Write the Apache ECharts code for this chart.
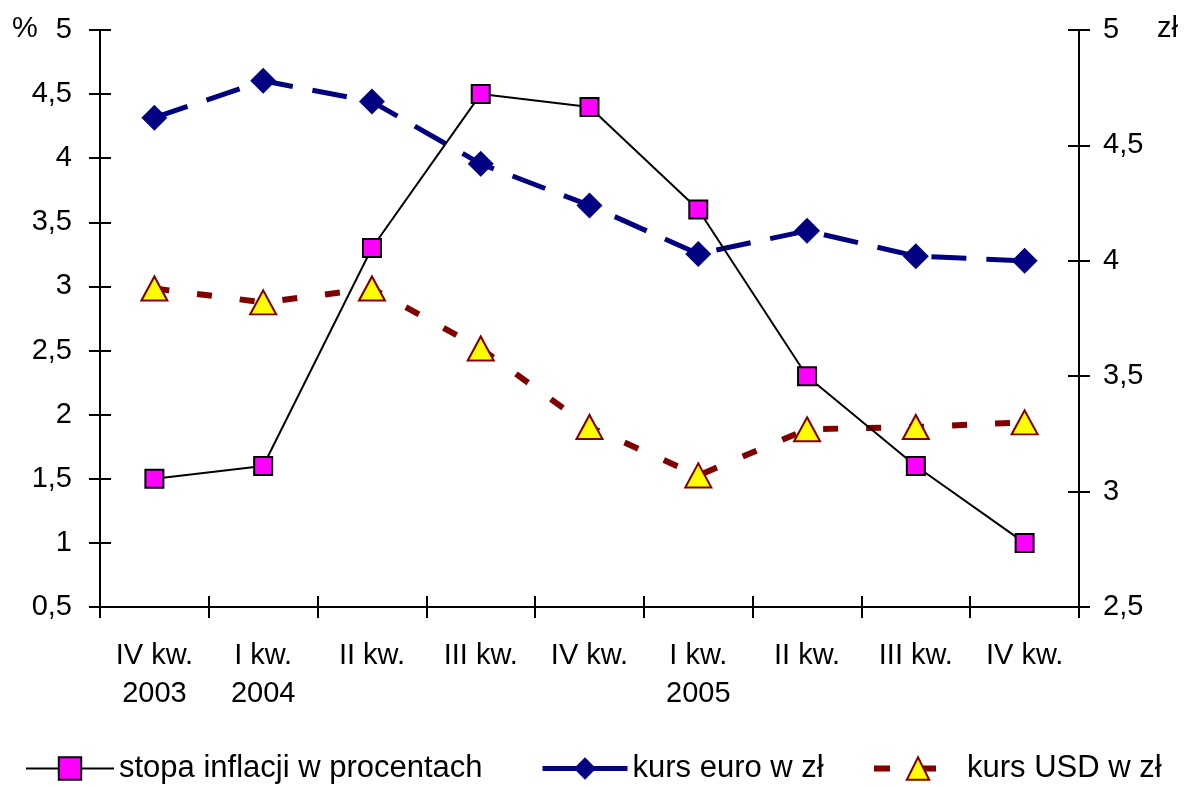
<!DOCTYPE html>
<html>
<head>
<meta charset="utf-8">
<script src="https://cdn.jsdelivr.net/npm/echarts@6/dist/echarts.min.js"></script>
<style>
  html, body { margin: 0; padding: 0; background: #fff; }
  #chart { width: 1184px; height: 786px; }
</style>
</head>
<body>
<div id="chart"></div>
<script>
// kwartały
var categories = ["IV kw.\n2003", "I kw.\n2004", "II kw.", "III kw.", "IV kw.", "I kw.\n2005", "II kw.", "III kw.", "IV kw."];
// stopa inflacji w % (lewa oś)
var inflacja = [1.5, 1.6, 3.3, 4.5, 4.4, 3.6, 2.3, 1.6, 1.0];
// kursy w zł (prawa oś)
var kursEuro = [4.62, 4.78, 4.69, 4.42, 4.24, 4.03, 4.13, 4.02, 4.00];
var kursUsd = [3.88, 3.82, 3.88, 3.62, 3.28, 3.07, 3.27, 3.28, 3.30];

var FONT = "Liberation Sans, Arial, sans-serif";
var AXIS_FS = 29;
var LEG_FS = 31;

function przecinek(v) {
  return String(v).replace(".", ",");
}

function osY(pos, min, max, inside, showLabel) {
  return {
    type: "value",
    position: pos,
    min: min,
    max: max,
    interval: 0.5,
    axisLine: { show: !inside, lineStyle: { color: "#000", width: 2 } },
    axisTick: { show: true, inside: inside, length: 11, lineStyle: { color: "#000", width: 2 } },
    axisLabel: {
      show: showLabel,
      formatter: przecinek,
      color: "#000",
      fontSize: AXIS_FS,
      fontFamily: FONT,
      margin: pos === "left" ? 28 : 24
    },
    splitLine: { show: false }
  };
}

function osX(inside, showLabel) {
  return {
    type: "category",
    position: "bottom",
    data: categories,
    boundaryGap: true,
    axisLine: { show: !inside, lineStyle: { color: "#000", width: 2 } },
    axisTick: { show: true, inside: inside, interval: 0, length: 11, lineStyle: { color: "#000", width: 2 } },
    axisLabel: {
      show: showLabel,
      interval: 0,
      color: "#000",
      fontSize: AXIS_FS,
      fontFamily: FONT,
      lineHeight: 38,
      margin: 30
    },
    splitLine: { show: false }
  };
}

function legenda(left, width, item) {
  return {
    left: left,
    top: 753,
    padding: 0,
    itemWidth: width,
    itemHeight: 28,
    textStyle: { color: "#000", fontSize: LEG_FS, fontFamily: FONT },
    data: [item]
  };
}

var chart = echarts.init(document.getElementById("chart"));

var option = {
  animation: false,
  backgroundColor: "#fff",
  grid: { left: 100, right: 105, top: 30, bottom: 179, containLabel: false },
  xAxis: [osX(false, true), osX(true, false)],
  yAxis: [
    osY("left", 0.5, 5, false, true),
    osY("right", 2.5, 5, false, true),
    osY("left", 0.5, 5, true, false),
    osY("right", 2.5, 5, true, false)
  ],
  graphic: [
    { type: "text", left: 12, top: 14, style: { text: "%", fontSize: AXIS_FS, fontFamily: FONT, fill: "#000" } },
    { type: "text", left: 1157, top: 14, style: { text: "zł", fontSize: AXIS_FS, fontFamily: FONT, fill: "#000" } }
  ],
  legend: [
    legenda(25, 88, { name: "stopa inflacji w procentach", lineStyle: { width: 2 } }),
    legenda(540, 85, { name: "kurs euro w zł", lineStyle: { width: 5, type: "solid" } }),
    legenda(871, 88, { name: "kurs USD w zł", lineStyle: { width: 6, type: [16, 28, 18, 100] } })
  ],
  series: [
    {
      name: "stopa inflacji w procentach",
      type: "line",
      yAxisIndex: 0,
      data: inflacja,
      symbol: "rect",
      symbolSize: 18,
      itemStyle: { color: "#ff00ff", borderColor: "#000", borderWidth: 2 },
      lineStyle: { color: "#000", width: 2 },
      z: 3
    },
    {
      name: "kurs euro w zł",
      type: "line",
      yAxisIndex: 1,
      data: kursEuro,
      symbol: "diamond",
      symbolSize: 26,
      itemStyle: { color: "#000080", borderWidth: 0 },
      lineStyle: { color: "#000080", width: 5, type: [35, 20] },
      z: 2
    },
    {
      name: "kurs USD w zł",
      type: "line",
      yAxisIndex: 1,
      data: kursUsd,
      symbol: "triangle",
      symbolSize: [26, 24],
      itemStyle: { color: "#ffff00", borderColor: "#800000", borderWidth: 2 },
      lineStyle: { color: "#800000", width: 6, type: [15, 28] },
      z: 2
    }
  ]
};

chart.setOption(option);
</script>
</body>
</html>
